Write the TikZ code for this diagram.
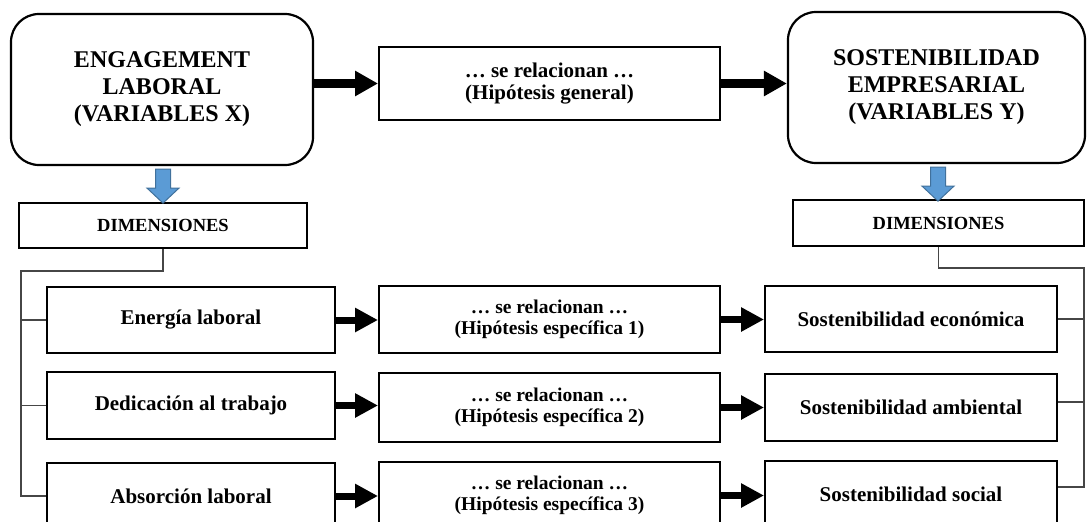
\documentclass[tikz,border=0pt]{standalone}
\usepackage{fontspec}
\setmainfont{Liberation Serif}
\usetikzlibrary{arrows.meta,calc}
\definecolor{arrowblue}{RGB}{91,155,213}
\definecolor{arrowedge}{RGB}{65,113,156}
\definecolor{bracketgray}{RGB}{70,70,70}
\begin{document}
\begin{tikzpicture}[x=1pt,y=-1pt,
  every node/.style={inner sep=0pt, align=center},
  bigbox/.style={draw, line width=2.2pt, rounded corners=28pt, font=\fontsize{24}{27}\selectfont\bfseries},
  box/.style={draw, line width=2pt},
  dimbox/.style={box, font=\fontsize{18.5}{21}\selectfont\bfseries},
  itembox/.style={box, minimum width=288pt, font=\fontsize{21}{24}\selectfont\bfseries},
  hypbox/.style={box, minimum width=341pt, font=\fontsize{19.5}{21.5}\selectfont\bfseries},
  resbox/.style={box, minimum width=292pt, font=\fontsize{21}{24}\selectfont\bfseries},
  toparrow/.style={line width=9pt, -{Triangle[length=23pt,width=24pt]}},
  smallarrow/.style={line width=7pt, -{Triangle[length=23pt,width=23pt]}},
  bracket/.style={draw=bracketgray, line width=1.2pt},
  bluedown/.pic={\draw[fill=arrowblue, draw=arrowedge, line width=1pt, line join=miter]
    (-7.5,0) -- (7.5,0) -- (7.5,19) -- (16,19) -- (0,34) -- (-16,19) -- (-7.5,19) -- cycle;}
]
\useasboundingbox (0,0) rectangle (1087,522);
\clip (0,0) rectangle (1087,522);

% top row
\node[bigbox, minimum width=302pt, minimum height=151pt] (X) at (162,89.5)
  {ENGAGEMENT\\LABORAL\\(VARIABLES X)};
\node[bigbox, minimum width=297pt, minimum height=151pt] (Y) at (936.5,87.5)
  {SOSTENIBILIDAD\\EMPRESARIAL\\(VARIABLES Y)};
\node[box, minimum width=341pt, minimum height=73pt, font=\fontsize{21}{22}\selectfont\bfseries] (HG) at (549.5,83.5)
  {… se relacionan …\\(Hipótesis general)};

\draw[toparrow] (HG.west -| X.east) -- (HG.west);
\draw[toparrow] (HG.east) -- (HG.east -| Y.west);

% dimensions
\node[dimbox, minimum width=288pt, minimum height=45pt] (DX) at (163,225.5) {DIMENSIONES};
\node[dimbox, minimum width=291pt, minimum height=46pt] (DY) at (938.5,223) {DIMENSIONES};

\pic at ($(X.south)+(1,3)$) {bluedown};
\pic at ($(Y.south)+(1.5,3)$) {bluedown};

% left items
\node[itembox, minimum height=66pt] (L1) at (191,320) {Energía laboral};
\node[itembox, minimum height=67pt] (L2) at (191,405.5) {Dedicación al trabajo};
\node[itembox, minimum height=67pt] (L3) at (191,496) {Absorción laboral};

% hypotheses
\node[hypbox, minimum height=67pt] (M1) at (549.5,319.5) {… se relacionan …\\(Hipótesis específica 1)};
\node[hypbox, minimum height=69pt] (M2) at (549.5,407.5) {… se relacionan …\\(Hipótesis específica 2)};
\node[hypbox, minimum height=67pt] (M3) at (549.5,495.5) {… se relacionan …\\(Hipótesis específica 3)};

% right items
\node[resbox, minimum height=66pt] (R1) at (911,319) {Sostenibilidad económica};
\node[resbox, minimum height=67pt] (R2) at (911,407.5) {Sostenibilidad ambiental};
\node[resbox, minimum height=67pt] (R3) at (911,494.5) {Sostenibilidad social};

% arrows between rows
\draw[smallarrow] (L1.east) -- (L1.east -| M1.west);
\draw[smallarrow] (L2.east) -- (L2.east -| M2.west);
\draw[smallarrow] (L3.east) -- (L3.east -| M3.west);
\draw[smallarrow] (M1.east) -- (M1.east -| R1.west);
\draw[smallarrow] (M2.east) -- (M2.east -| R2.west);
\draw[smallarrow] (M3.east) -- (M3.east -| R3.west);

% left bracket
\coordinate (lv) at (21,271);
\draw[bracket] (DX.south) -- (DX.south |- lv) -- (lv) -- (lv |- L3.west) -- (L3.west);
\draw[bracket] (lv |- L1.west) -- (L1.west);
\draw[bracket] (lv |- L2.west) -- (L2.west);

% right bracket
\coordinate (rv) at (1084,268);
\coordinate (rb1) at (1084,319);
\coordinate (rb2) at (1084,402);
\coordinate (rb3) at (1084,487);
\draw[bracket] (DY.south) -- (DY.south |- rv) -- (rv) -- (rb3) -- (rb3 -| R3.east);
\draw[bracket] (rb1) -- (rb1 -| R1.east);
\draw[bracket] (rb2) -- (rb2 -| R2.east);
\end{tikzpicture}
\end{document}
